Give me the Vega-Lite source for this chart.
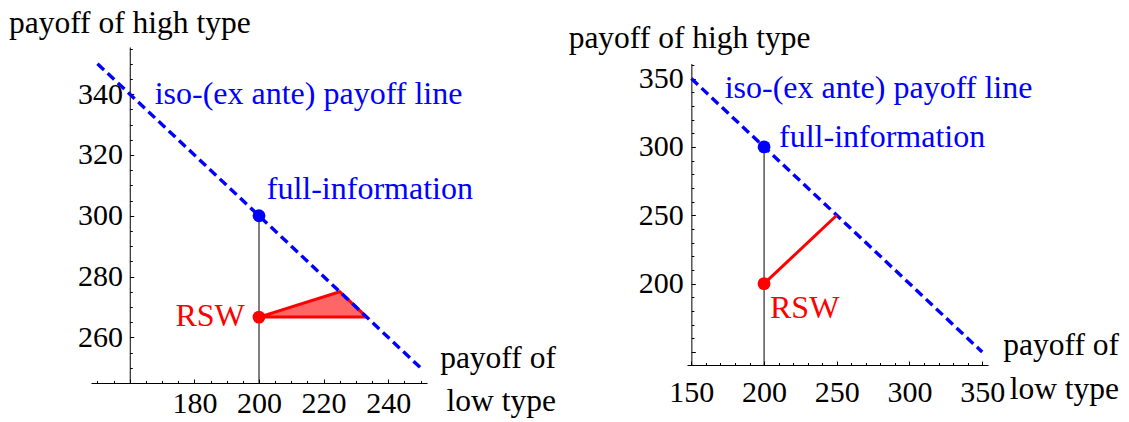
{
  "$schema": "https://vega.github.io/schema/vega-lite/v6.json",
  "padding": {"left": 8, "top": 8, "right": 0, "bottom": 0},
  "background": "white",
  "config": {
    "view": {"stroke": null},
    "font": "Liberation Serif",
    "axis": {
      "grid": false,
      "title": null,
      "domainColor": "black",
      "domainWidth": 1,
      "tickColor": "black",
      "tickWidth": 1,
      "labelFont": "Liberation Serif",
      "labelFontSize": 30,
      "labelColor": "black",
      "labelFlush": false,
      "labelOverlap": false,
      "labelBound": false
    },
    "text": {"font": "Liberation Serif"}
  },
  "datasets": {
    "left": [
      {"role": "iso", "x": 150, "y": 350},
      {"role": "iso", "x": 250, "y": 250},
      {"role": "vert", "x": 200, "y": 300, "y2": 245},
      {"role": "tri", "x": 200, "y": 266.67, "y2": 266.67},
      {"role": "tri", "x": 225, "y": 275, "y2": 266.67},
      {"role": "tri", "x": 233.33, "y": 266.67, "y2": 266.67},
      {"role": "pt", "x": 200, "y": 300, "kind": "full"},
      {"role": "pt", "x": 200, "y": 266.67, "kind": "rsw"},
      {"role": "ytitle", "x": 122.6, "y": 360.0, "label": "payoff of high type", "kind": "axis"},
      {"role": "xtitle", "x": 291.9, "y": 249.8, "label": "payoff of", "kind": "axis"},
      {"role": "xtitle", "x": 291.9, "y": 235.8, "label": "low type", "kind": "axis"},
      {"role": "note", "x": 167.7, "y": 336.6, "label": "iso-(ex ante) payoff line", "kind": "iso"},
      {"role": "note", "x": 202.4, "y": 305.4, "label": "full-information", "kind": "full"},
      {"role": "noteR", "x": 195.6, "y": 263.8, "label": "RSW", "kind": "rsw"}
    ],
    "right": [
      {"role": "iso", "x": 150, "y": 350},
      {"role": "iso", "x": 350, "y": 150},
      {"role": "vert", "x": 200, "y": 300, "y2": 140.5},
      {"role": "seg", "x": 200, "y": 200},
      {"role": "seg", "x": 250, "y": 250},
      {"role": "pt", "x": 200, "y": 300, "kind": "full"},
      {"role": "pt", "x": 200, "y": 200, "kind": "rsw"},
      {"role": "ytitle", "x": 65.6, "y": 372.3, "label": "payoff of high type", "kind": "axis"},
      {"role": "xtitle", "x": 444.1, "y": 147.5, "label": "payoff of", "kind": "axis"},
      {"role": "xtitle", "x": 444.1, "y": 116.0, "label": "low type", "kind": "axis"},
      {"role": "note", "x": 172.9, "y": 335.6, "label": "iso-(ex ante) payoff line", "kind": "iso"},
      {"role": "note", "x": 210.3, "y": 300.2, "label": "full-information", "kind": "full"},
      {"role": "note", "x": 204.1, "y": 175.0, "label": "RSW", "kind": "rsw"}
    ]
  },
  "hconcat": [
    {
      "width": 336,
      "height": 336,
      "data": {"name": "left"},
      "encoding": {
        "x": {"field": "x", "type": "quantitative", "scale": {"domain": [148, 252], "nice": false, "zero": false}, "axis": null},
        "y": {"field": "y", "type": "quantitative", "scale": {"domain": [245, 355.5], "nice": false, "zero": false}, "axis": null},
        "color": {"field": "kind", "type": "nominal", "scale": {"domain": ["axis", "iso", "full", "rsw"], "range": ["#000000", "#0000ff", "#0000ff", "#ff0000"]}, "legend": null}
      },
      "layer": [
        {
          "transform": [{"filter": "datum.role == 'tri'"}],
          "mark": {"type": "area", "color": "#ff0000", "fillOpacity": 0.6, "stroke": "#ff0000", "strokeWidth": 3, "strokeJoin": "miter"},
          "encoding": {"y2": {"field": "y2"}, "color": {"value": "#ff0000"}}
        },
        {
          "transform": [{"filter": "datum.role == 'vert'"}],
          "mark": {"type": "rule", "color": "black", "strokeWidth": 1},
          "encoding": {
            "y2": {"field": "y2"},
            "color": {"value": "black"},
            "x": {"field": "x", "type": "quantitative", "scale": {"domain": [148, 252], "nice": false, "zero": false},
                  "axis": {"orient": "bottom", "values": [150, 155, 160, 165, 170, 175, 180, 185, 190, 195, 200, 205, 210, 215, 220, 225, 230, 235, 240, 245, 250], "labels": false, "domain": false, "tickSize": -2.5}},
            "y": {"field": "y", "type": "quantitative", "scale": {"domain": [245, 355.5], "nice": false, "zero": false},
                  "axis": {"orient": "left", "offset": -38.76, "values": [250, 255, 260, 265, 270, 275, 280, 285, 290, 295, 300, 305, 310, 315, 320, 325, 330, 335, 340, 345, 350, 355], "labels": false, "domain": false, "tickSize": -2.5}}
          }
        },
        {
          "transform": [{"filter": "datum.role == 'iso'"}],
          "mark": {"type": "line", "color": "#0000ff", "strokeWidth": 3.4, "strokeDash": [9, 5]},
          "encoding": {
            "color": {"value": "#0000ff"},
            "x": {"field": "x", "type": "quantitative", "scale": {"domain": [148, 252], "nice": false, "zero": false},
                  "axis": {"orient": "bottom", "values": [160, 180, 200, 220, 240], "labelExpr": "datum.value == 160 ? '' : datum.label", "tickSize": -4, "labelPadding": 9.3}},
            "y": {"field": "y", "type": "quantitative", "scale": {"domain": [245, 355.5], "nice": false, "zero": false},
                  "axis": {"orient": "left", "offset": -38.76, "values": [260, 280, 300, 320, 340], "tickSize": -4, "labelPadding": 11.3}}
          }
        },
        {
          "transform": [{"filter": "datum.role == 'pt'"}],
          "mark": {"type": "point", "filled": true, "size": 165, "opacity": 1, "shape": "circle"}
        },
        {
          "transform": [{"filter": "datum.role == 'ytitle'"}],
          "mark": {"type": "text", "align": "left", "baseline": "alphabetic", "fontSize": 31.5},
          "encoding": {"text": {"field": "label"}}
        },
        {
          "transform": [{"filter": "datum.role == 'xtitle'"}],
          "mark": {"type": "text", "align": "right", "baseline": "alphabetic", "fontSize": 31.5},
          "encoding": {"text": {"field": "label"}}
        },
        {
          "transform": [{"filter": "datum.role == 'note'"}],
          "mark": {"type": "text", "align": "left", "baseline": "alphabetic", "fontSize": 32},
          "encoding": {"text": {"field": "label"}}
        },
        {
          "transform": [{"filter": "datum.role == 'noteR'"}],
          "mark": {"type": "text", "align": "right", "baseline": "alphabetic", "fontSize": 32},
          "encoding": {"text": {"field": "label"}}
        }
      ],
      "resolve": {"axis": {"x": "independent", "y": "independent"}}
    },
    {
      "width": 301,
      "height": 318,
      "data": {"name": "right"},
      "encoding": {
        "x": {"field": "x", "type": "quantitative", "scale": {"domain": [147, 354], "nice": false, "zero": false}, "axis": null},
        "y": {"field": "y", "type": "quantitative", "scale": {"domain": [140.5, 361], "range": [318, 16.5], "nice": false, "zero": false}, "axis": null},
        "color": {"field": "kind", "type": "nominal", "scale": {"domain": ["axis", "iso", "full", "rsw"], "range": ["#000000", "#0000ff", "#0000ff", "#ff0000"]}, "legend": null}
      },
      "layer": [
        {
          "transform": [{"filter": "datum.role == 'vert'"}],
          "mark": {"type": "rule", "color": "black", "strokeWidth": 1},
          "encoding": {
            "y2": {"field": "y2"},
            "color": {"value": "black"},
            "x": {"field": "x", "type": "quantitative", "scale": {"domain": [147, 354], "nice": false, "zero": false},
                  "axis": {"orient": "bottom", "values": [150, 160, 170, 180, 190, 200, 210, 220, 230, 240, 250, 260, 270, 280, 290, 300, 310, 320, 330, 340, 350], "labels": false, "domain": false, "tickSize": -2.5}},
            "y": {"field": "y", "type": "quantitative", "scale": {"domain": [140.5, 361], "range": [318, 16.5], "nice": false, "zero": false},
                  "axis": {"orient": "left", "offset": -4.36, "values": [150, 160, 170, 180, 190, 200, 210, 220, 230, 240, 250, 260, 270, 280, 290, 300, 310, 320, 330, 340, 350, 360], "labels": false, "domain": false, "tickSize": -2.5}}
          }
        },
        {
          "transform": [{"filter": "datum.role == 'iso'"}],
          "mark": {"type": "line", "color": "#0000ff", "strokeWidth": 3.4, "strokeDash": [9, 5]},
          "encoding": {
            "color": {"value": "#0000ff"},
            "x": {"field": "x", "type": "quantitative", "scale": {"domain": [147, 354], "nice": false, "zero": false},
                  "axis": {"orient": "bottom", "values": [150, 200, 250, 300, 350], "tickSize": -4, "labelPadding": 16}},
            "y": {"field": "y", "type": "quantitative", "scale": {"domain": [140.5, 361], "range": [318, 16.5], "nice": false, "zero": false},
                  "axis": {"orient": "left", "offset": -4.36, "values": [150, 200, 250, 300, 350], "labelExpr": "datum.value == 150 ? '' : datum.label", "tickSize": -4, "labelPadding": 12}}
          }
        },
        {
          "transform": [{"filter": "datum.role == 'seg'"}],
          "mark": {"type": "line", "color": "#ff0000", "strokeWidth": 3},
          "encoding": {"color": {"value": "#ff0000"}}
        },
        {
          "transform": [{"filter": "datum.role == 'pt'"}],
          "mark": {"type": "point", "filled": true, "size": 165, "opacity": 1, "shape": "circle"}
        },
        {
          "transform": [{"filter": "datum.role == 'ytitle'"}],
          "mark": {"type": "text", "align": "left", "baseline": "alphabetic", "fontSize": 31.5},
          "encoding": {"text": {"field": "label"}}
        },
        {
          "transform": [{"filter": "datum.role == 'xtitle'"}],
          "mark": {"type": "text", "align": "right", "baseline": "alphabetic", "fontSize": 31.5},
          "encoding": {"text": {"field": "label"}}
        },
        {
          "transform": [{"filter": "datum.role == 'note'"}],
          "mark": {"type": "text", "align": "left", "baseline": "alphabetic", "fontSize": 32},
          "encoding": {"text": {"field": "label"}}
        }
      ],
      "resolve": {"axis": {"x": "independent", "y": "independent"}}
    }
  ],
  "spacing": 260,
  "bounds": "flush"
}
